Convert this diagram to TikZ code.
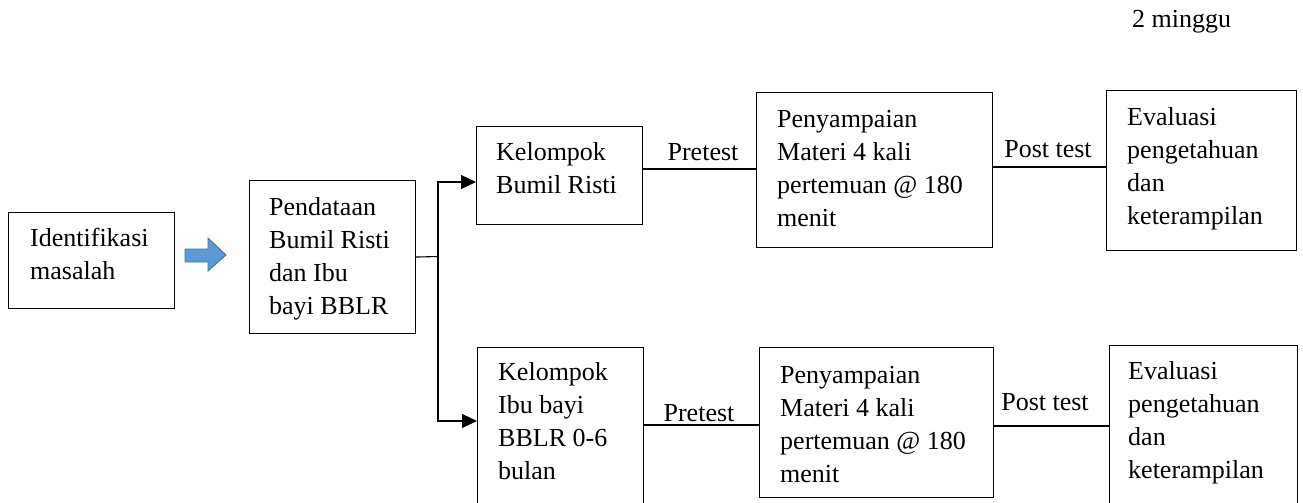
\documentclass[tikz,border=0pt]{standalone}
\usepackage{fontspec}
\setmainfont{Liberation Serif}
\usetikzlibrary{arrows.meta}
\definecolor{arrowfill}{HTML}{5B9BD5}
\definecolor{arrowline}{HTML}{41719C}
\begin{document}
\begin{tikzpicture}[x=1pt,y=-1pt,
  box/.style={draw, line width=1.1pt, inner sep=0pt, anchor=north west},
  txt/.style={font=\fontsize{26}{33}\selectfont, align=left, inner sep=0pt, anchor=base west},
  lbl/.style={font=\fontsize{26}{33}\selectfont, inner sep=0pt, anchor=base},
  conn/.style={line width=1.1pt},
  tipped/.style={conn, -{Triangle[length=15pt,width=14pt]}}]
\useasboundingbox (0,0) rectangle (1303,503);
\clip (0,0) rectangle (1303,503);

% boxes
\node[box, minimum width=166pt, minimum height=96pt]  (id)  at (8,212)   {};
\node[box, minimum width=166pt, minimum height=153pt] (pd)  at (249,180) {};
\node[box, minimum width=166pt, minimum height=98pt]  (kb)  at (476,126) {};
\node[box, minimum width=236pt, minimum height=155pt] (pa)  at (756,92)  {};
\node[box, minimum width=190pt, minimum height=160pt] (ea)  at (1106,90) {};
\node[box, minimum width=166pt, minimum height=180pt] (ki)  at (477,347) {};
\node[box, minimum width=234pt, minimum height=150pt] (pb)  at (759,347) {};
\node[box, minimum width=188pt, minimum height=180pt] (eb)  at (1109,345) {};

% texts (anchor = baseline of the last line)
\node[txt] (idt) at (30,279)   {Identifikasi\\masalah};
\node[txt] (pdt) at (269,314)  {Pendataan\\Bumil Risti\\dan Ibu\\bayi BBLR};
\node[txt] (kbt) at (496,193)  {Kelompok\\Bumil Risti};
\node[txt] (pat) at (777,226)  {Penyampaian\\Materi 4 kali\\pertemuan @ 180\\menit};
\node[txt] (eat) at (1127,224) {Evaluasi\\pengetahuan\\dan\\keterampilan};
\node[txt] (kit) at (498,479)  {Kelompok\\Ibu bayi\\BBLR 0-6\\bulan};
\node[txt] (pbt) at (780,482)  {Penyampaian\\Materi 4 kali\\pertemuan @ 180\\menit};
\node[txt] (ebt) at (1128,478) {Evaluasi\\pengetahuan\\dan\\keterampilan};
\node[txt] (mg)  at (1132,28)  {2 minggu};

% labels
\node[lbl] (pre1)  at (703,160) {Pretest};
\node[lbl] (post1) at (1048,157) {Post test};
\node[lbl] (pre2)  at (699,421) {Pretest};
\node[lbl] (post2) at (1045,410) {Post test};

% blue block arrow
\filldraw[fill=arrowfill, draw=arrowline, line width=0.9pt]
  (185,249) -- (208,249) -- (208,238) -- (226,255) -- (208,271) -- (208,262) -- (185,262) -- cycle;

% branch connectors
\draw[conn] (pd.east) -- (438,256.5) coordinate (br);
\draw[tipped] (br) |- (kb.west |- 0,182);
\draw[tipped] (br) |- (ki.west |- 0,421);

% pretest / post test lines
\draw[conn] (kb.east |- 0,169) -- (pa.west |- 0,169);
\draw[conn] (pa.east |- 0,167) -- (ea.west |- 0,167);
\draw[conn] (ki.east |- 0,425) -- (pb.west |- 0,425);
\draw[conn] (pb.east |- 0,426) -- (eb.west |- 0,426);
\end{tikzpicture}
\end{document}
